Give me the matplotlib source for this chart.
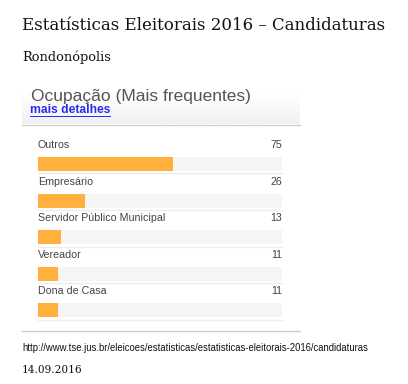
"""TSE candidate occupations for Rondonopolis, drawn as a web-style bar panel."""

import matplotlib

matplotlib.use("Agg")
import matplotlib.pyplot as plt
import numpy as np

occupations = ["Outros", "Empresário", "Servidor Público Municipal", "Vereador", "Dona de Casa"]
counts = [75, 26, 13, 11, 11]

title = "Estatísticas Eleitorais 2016 \u2013 Candidaturas"
city = "Rondonópolis"
panel_title = "Ocupação (Mais frequentes)"
link_text = "mais detalhes"
source_url = "http://www.tse.jus.br/eleicoes/estatisticas/estatisticas-eleitorais-2016/candidaturas"
date_text = "14.09.2016"

W, H = 408, 384
BAR_COLOR = "#ffb03d"
TRACK_COLOR = "#f5f5f5"
LINK_COLOR = "#2a2af0"
SANS = ["Liberation Sans", "DejaVu Sans"]
SERIF = ["DejaVu Serif", "Liberation Serif"]

fig = plt.figure(figsize=(W / 100, H / 100), dpi=100)
fig.patch.set_facecolor("white")

# overlay in pixel coordinates for the page text and panel chrome
page = fig.add_axes([0, 0, 1, 1])
page.set_xlim(0, W)
page.set_ylim(H, 0)
page.axis("off")

page.text(22, 26, title, fontsize=12.0, family=SERIF, color="#111111", va="center")
page.text(22, 57, city, fontsize=9.4, family=SERIF, color="#111111", va="center")

# header gradient, mostly white fading to light grey at the bottom
grad = (1.0 - 0.06 * np.linspace(0, 1, 64) ** 1.5).reshape(-1, 1)
page.imshow(grad, extent=(22, 300, 124, 84), cmap="gray", vmin=0, vmax=1,
            aspect="auto", zorder=0)
page.plot([22, 300], [124.5, 124.5], color="#d2d2d2", lw=1.0)
page.text(31, 96, panel_title, fontsize=12.5, family=SANS, color="#555555", va="center")
link = page.text(30, 110, link_text, fontsize=8.7, family=SANS, color=LINK_COLOR,
                 fontweight="bold", va="center")

page.plot([22, 300], [331, 331], color="#cccccc", lw=1.0)
page.text(22, 348, source_url, fontsize=6.85, family=SANS, color="#111111", va="center")
page.text(22, 370, date_text, fontsize=7.6, family=SERIF, color="#111111", va="center")

# underline the link using its rendered width
fig.canvas.draw()
bb = link.get_window_extent()
page.plot([30, 30 + bb.width], [115.5, 115.5], color=LINK_COLOR, lw=0.7)

# bar area: rows are 36.6 px apart, track runs 38..282 px
row_px = 36.6
top_px = 164 - row_px / 2
n = len(occupations)
ax = fig.add_axes([38 / W, 1 - (top_px + n * row_px) / H, 244 / W, n * row_px / H])
ax.axis("off")
total = sum(counts)
ax.set_xlim(0, total)
ax.set_ylim(n - 0.5, -0.5)

rows = np.arange(n)
bar_h = 14 / row_px
ax.barh(rows, [total] * n, height=bar_h, color=TRACK_COLOR, zorder=1)
ax.barh(rows, counts, height=bar_h, color=BAR_COLOR, zorder=2)

label_off = -19 / row_px
sep_off = 9.5 / row_px
for i, (name, val) in enumerate(zip(occupations, counts)):
    ax.text(0, i + label_off, name, fontsize=7.7, family=SANS, color="#444444",
            va="center", ha="left", clip_on=False)
    ax.text(total, i + label_off, str(val), fontsize=7.7, family=SANS, color="#444444",
            va="center", ha="right", clip_on=False)
    ax.plot([0, total], [i + sep_off, i + sep_off], color="#eeeeee", lw=1.0,
            clip_on=False)

fig.savefig("out.png", dpi=100)
